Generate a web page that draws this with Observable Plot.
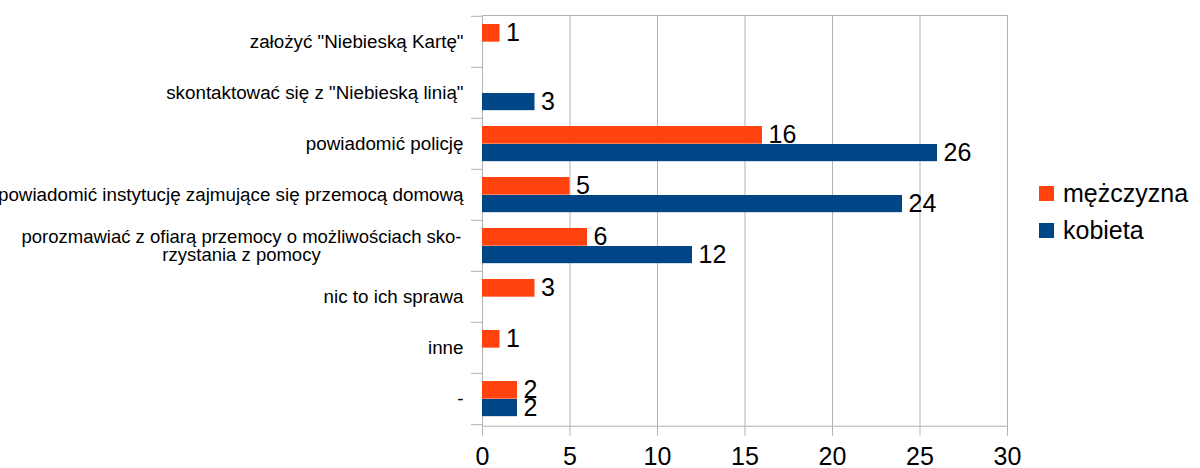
<!DOCTYPE html>
<html>
<head>
<meta charset="utf-8">
<script src="https://cdn.jsdelivr.net/npm/d3@7"></script>
<script src="https://cdn.jsdelivr.net/npm/@observablehq/plot@0.6"></script>
<style>
  html, body { margin: 0; padding: 0; background: #fff; }
  #wrap { position: relative; width: 1200px; height: 468px; font-family: "Liberation Sans", Arial, sans-serif; }
  #legend { position: absolute; left: 1039px; top: 175px; font-size: 25px; color: #000; }
  .row { display: flex; align-items: center; height: 37px; }
  .sw { width: 15px; height: 15px; margin-right: 9px; }
</style>
</head>
<body>
<div id="wrap"></div>
<script>
const categories = [
  'założyć "Niebieską Kartę"',
  'skontaktować się z "Niebieską linią"',
  'powiadomić policję',
  'powiadomić instytucję zajmujące się przemocą domową',
  'porozmawiać z ofiarą przemocy o możliwościach sko-\nrzystania z pomocy',
  'nic to ich sprawa',
  'inne',
  '-'
];
const series = ["mężczyzna", "kobieta"];
const men   = [1, 0, 16, 5, 6, 3, 1, 2];
const women = [0, 3, 26, 24, 12, 0, 0, 2];
const xTicks = [0, 5, 10, 15, 20, 25, 30];
const colors = ["#ff420e", "#004586"];

const data = [];
categories.forEach((c, i) => {
  data.push({category: c, series: series[0], value: men[i]});
  data.push({category: c, series: series[1], value: women[i]});
});

const W = 1200, H = 468;
const mTop = 15, mBottom = 42.3, mLeft = 482, mRight = 193;
const bw = (H - mTop - mBottom) / categories.length;
const gray = "#b3b3b3";
const font = 'Liberation Sans, Arial, sans-serif';

const menData = data.filter(d => d.series === series[0]);
const womenData = data.filter(d => d.series === series[1]);
const multi = categories.filter(c => c.includes("\n"));
const single = categories.filter(c => !c.includes("\n"));

const chart = Plot.plot({
  width: W, height: H,
  marginTop: mTop, marginBottom: mBottom, marginLeft: mLeft, marginRight: mRight,
  style: {fontFamily: font, background: "#fff", overflow: "visible"},
  x: {domain: [0, 30], ticks: xTicks, label: null},
  y: {domain: categories, type: "band", padding: 0, label: null, axis: null},
  color: {domain: series, range: colors},
  marks: [
    Plot.gridX(xTicks, {stroke: gray, strokeOpacity: 1}),
    Plot.frame({stroke: gray}),
    Plot.axisX(xTicks, {tickSize: 10, tickPadding: 11, fontSize: 25, stroke: gray, fill: "#000", label: null}),
    Plot.axisY(categories, {tickSize: 11, stroke: gray, dy: -bw / 2, tickFormat: () => "", label: null}),
    Plot.axisY([categories[categories.length - 1]], {tickSize: 11, stroke: gray, dy: bw / 2, tickFormat: () => "", label: null}),
    Plot.barX(menData, {x: "value", y: "category", fill: "series", insetTop: 8, insetBottom: bw - 26}),
    Plot.barX(womenData, {x: "value", y: "category", fill: "series", insetTop: 26, insetBottom: bw - 43.5}),
    Plot.text(menData.filter(d => d.value > 0), {x: "value", y: "category", text: d => String(d.value),
      dx: 6, dy: 17 - bw / 2, textAnchor: "start", lineAnchor: "middle", fontSize: 25, fill: "#000"}),
    Plot.text(womenData.filter(d => d.value > 0), {x: "value", y: "category", text: d => String(d.value),
      dx: 6, dy: 34.7 - bw / 2, textAnchor: "start", lineAnchor: "middle", fontSize: 25, fill: "#000"}),
    Plot.text(single, {y: d => d, text: d => d, frameAnchor: "left", dx: -19, textAnchor: "end",
      lineAnchor: "middle", fontSize: 18.8, fill: "#000"}),
    Plot.text(multi, {y: d => d, text: d => d, frameAnchor: "left", dx: -241, textAnchor: "middle",
      lineAnchor: "middle", lineHeight: 1, fontSize: 18.5, fill: "#000"})
  ]
});

const wrap = document.getElementById("wrap");
wrap.appendChild(chart);
const legend = document.createElement("div");
legend.id = "legend";
series.forEach((s, i) => {
  const row = document.createElement("div");
  row.className = "row";
  const sw = document.createElement("div");
  sw.className = "sw";
  sw.style.background = colors[i];
  const label = document.createElement("span");
  label.textContent = s;
  row.appendChild(sw);
  row.appendChild(label);
  legend.appendChild(row);
});
wrap.appendChild(legend);
</script>
</body>
</html>
